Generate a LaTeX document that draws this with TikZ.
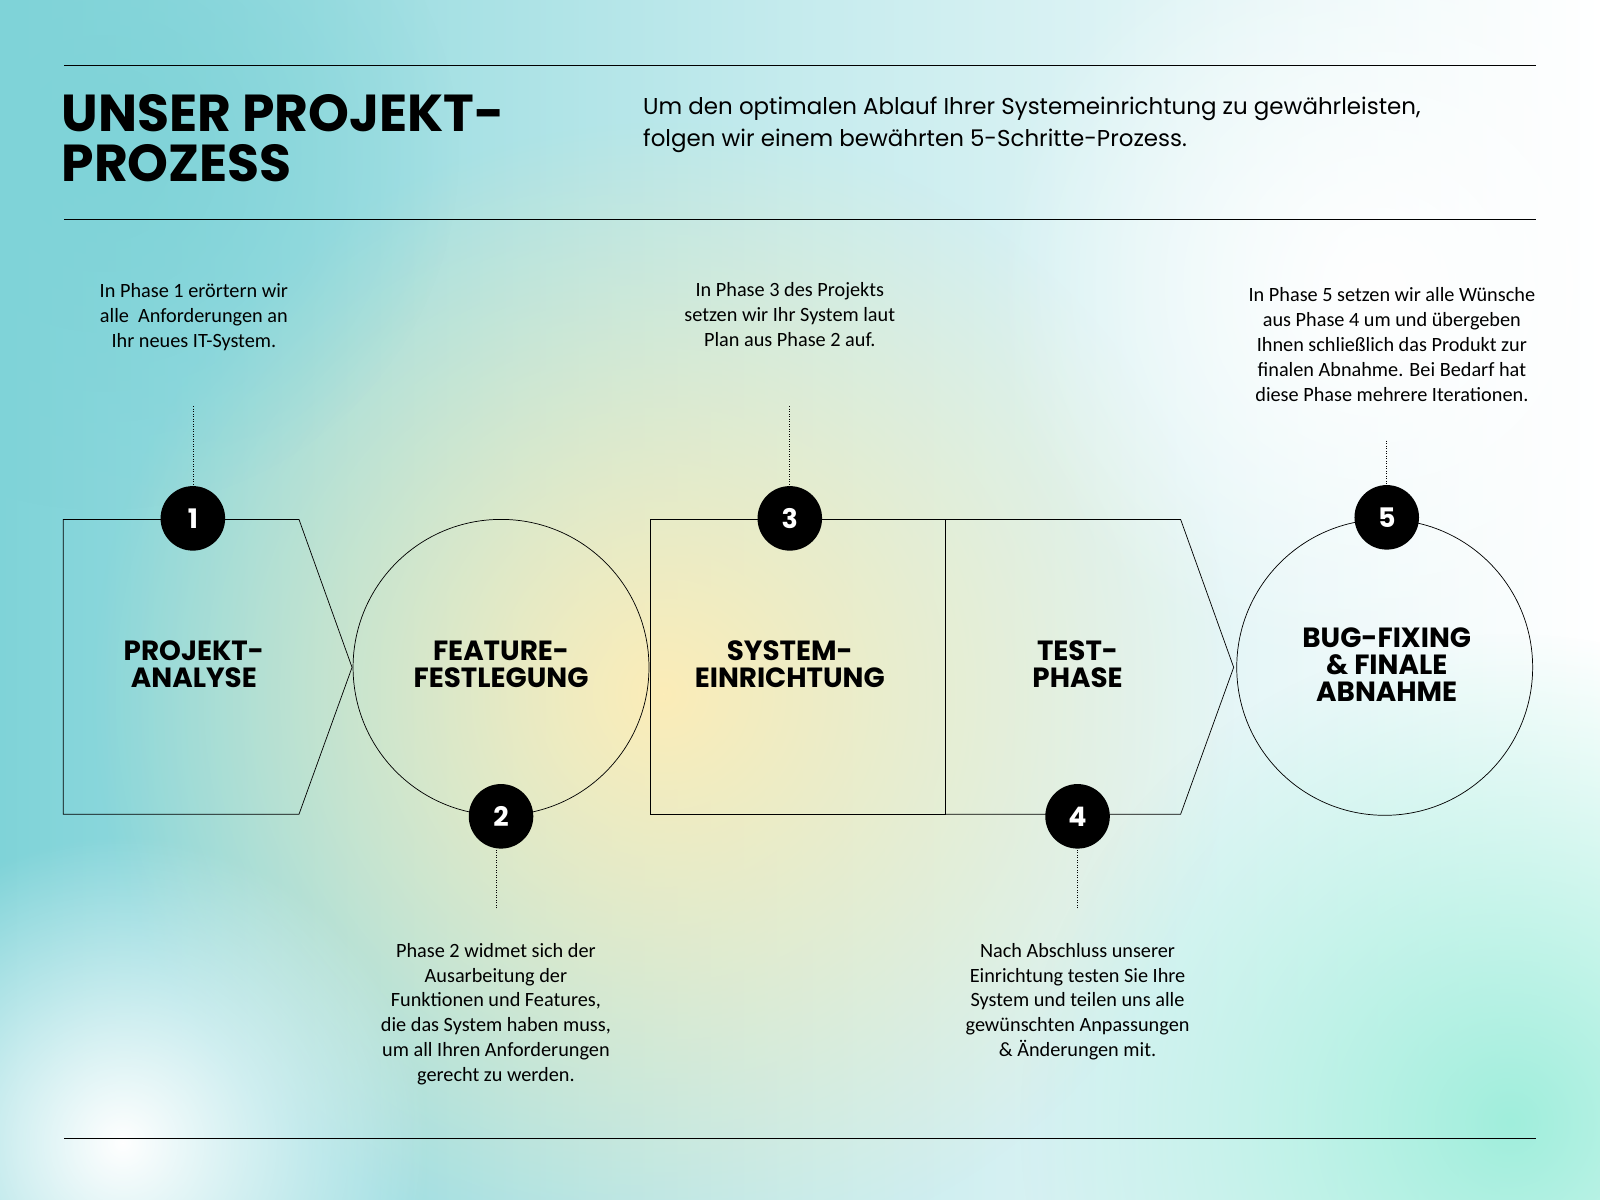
\documentclass[tikz,border=0pt]{standalone}
\usepackage{fontspec}
\setmainfont{Carlito}
\newfontfamily\headfont{Poppins}
\usetikzlibrary{positioning,fadings}
\tikzfading[name=softblob, inner color=transparent!0, outer color=transparent!100]
\definecolor{tealbg}{HTML}{7FD3D8}
\definecolor{yellowbg}{HTML}{FCEDB8}
\definecolor{mintbg}{HTML}{A0EEDC}
\tikzset{
  badge/.style={circle, fill=black, text=white, minimum size=36pt, inner sep=0pt, font=\headfont\bfseries\fontsize{15}{15}\selectfont},
  phase/.style={font=\headfont\bfseries\fontsize{15.5}{15}\selectfont, align=center},
  note/.style={font=\fontsize{11.3}{13.9}\selectfont, align=center},
  stem/.style={densely dotted, thin},
  blob/.style={path fading=softblob}
}
\begin{document}
\begin{tikzpicture}[x=0.02cm, y=-0.02cm]
  % background
  \fill[left color=tealbg, right color=white, middle color=tealbg!45] (0,0) rectangle (1568,1176);
  \begin{scope}
    \clip (0,0) rectangle (1568,1176);
    \fill[yellowbg, blob] (650,680) circle (560);
    \fill[mintbg, blob] (1480,1100) circle (480);
    \fill[white, blob] (120,1120) circle (300);
    \fill[white, blob] (1350,280) circle (380);
    \fill[tealbg, blob] (100,150) circle (350);
  \end{scope}
  \useasboundingbox (0,0) rectangle (1568,1176);
  % rules
  \draw (63,64) -- (1505,64);
  \draw (63,215) -- (1505,215);
  \draw (63,1116) -- (1505,1116);
  % heading
  \node[anchor=north west, inner sep=0pt, align=left, font=\headfont\bfseries\fontsize{29}{28}\selectfont] (title) at (60,92) {UNSER PROJEKT-\\PROZESS};
  \node[anchor=north west, inner sep=0pt, align=left, font=\headfont\fontsize{12.8}{17.6}\selectfont] (intro) at (630,95) {Um den optimalen Ablauf Ihrer Systemeinrichtung zu gewährleisten,\\folgen wir einem bewährten 5-Schritte-Prozess.};
  % shapes
  \draw (62,509) -- (293,509) -- (345,654) -- (293,798) -- (62,798) -- cycle;
  \draw (491,654) circle (145);
  \draw (637,509) rectangle (926,798);
  \draw (926,509) -- (1157,509) -- (1209,654) -- (1157,798) -- (926,798);
  \draw (1357,654) circle (145);
  % phase names
  \node[phase] (p1) at (190,651) {PROJEKT-\\ANALYSE};
  \node[phase] (p2) at (491,651) {FEATURE-\\FESTLEGUNG};
  \node[phase] (p3) at (774,651) {SYSTEM-\\EINRICHTUNG};
  \node[phase] (p4) at (1056,651) {TEST-\\PHASE};
  \node[phase] (p5) at (1359,651) {BUG-FIXING\\\& FINALE\\ABNAHME};
  % badges
  \node[badge] (b1) at (189,508) {1};
  \node[badge] (b2) at (491,800) {2};
  \node[badge] (b3) at (774,508) {3};
  \node[badge] (b4) at (1056,800) {4};
  \node[badge] (b5) at (1359,507) {5};
  % notes
  \coordinate (s1) at (189,398);
  \coordinate (s2) at (486,890);
  \coordinate (s3) at (774,398);
  \coordinate (s4) at (1056,890);
  \coordinate (s5) at (1359,432);
  \draw[stem] (s1) -- (b1);
  \draw[stem] (s2) -- (486,832);
  \draw[stem] (s3) -- (b3);
  \draw[stem] (s4) -- (b4);
  \draw[stem] (s5) -- (b5);
  \node[note, anchor=south] (n1) at (190,350) {In Phase 1 erörtern wir\\alle\ \ Anforderungen an\\Ihr neues IT-System.};
  \node[note, anchor=south] (n3) at (774,346) {In Phase 3 des Projekts\\setzen wir Ihr System laut\\Plan aus Phase 2 auf.};
  \node[note, anchor=south] (n5) at (1364,400) {In Phase 5 setzen wir alle Wünsche\\aus Phase 4 um und übergeben\\Ihnen schließlich das Produkt zur\\finalen Abnahme. Bei Bedarf hat\\diese Phase mehrere Iterationen.};
  \node[note, anchor=north] (n2) at (486,918) {Phase 2 widmet sich der\\Ausarbeitung der\\Funktionen und Features,\\die das System haben muss,\\um all Ihren Anforderungen\\gerecht zu werden.};
  \node[note, anchor=north] (n4) at (1056,918) {Nach Abschluss unserer\\Einrichtung testen Sie Ihre\\System und teilen uns alle\\gewünschten Anpassungen\\\& Änderungen mit.};
\end{tikzpicture}
\end{document}
